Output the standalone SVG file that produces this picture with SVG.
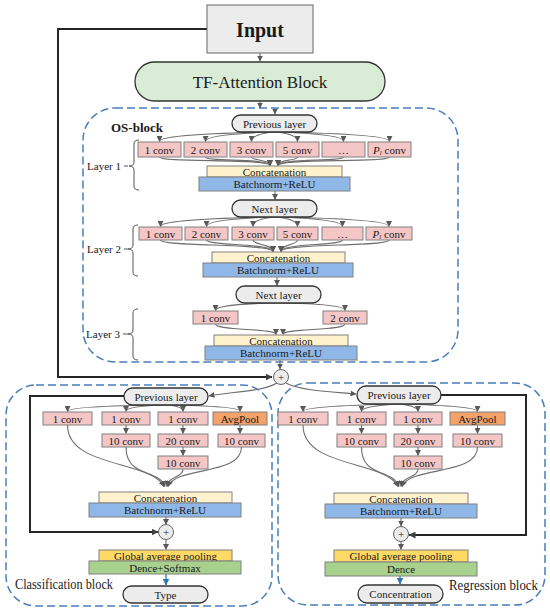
<svg xmlns="http://www.w3.org/2000/svg" width="550" height="612" viewBox="0 0 550 612" font-family="'Liberation Serif','Times New Roman',serif">
<defs>
<marker id="ah" markerWidth="6" markerHeight="6" refX="5.5" refY="3" orient="auto" markerUnits="userSpaceOnUse"><path d="M0,0 L6,3 L0,6 z" fill="#595959"/></marker>
<marker id="ahk" markerWidth="7" markerHeight="7" refX="6.5" refY="3.5" orient="auto" markerUnits="userSpaceOnUse"><path d="M0,0 L7,3.5 L0,7 z" fill="#404040"/></marker>
<marker id="ahb" markerWidth="7" markerHeight="7" refX="6.5" refY="3.5" orient="auto" markerUnits="userSpaceOnUse"><path d="M0,0 L7,3.5 L0,7 z" fill="#2e75b6"/></marker>
<style>
text{font-family:"Liberation Serif","Times New Roman",serif;fill:#1a1a1a;text-anchor:middle;dominant-baseline:central}
.t11{font-size:11px}
.conv{fill:#f5c6c6;stroke:#808080;stroke-width:1}
.pool{fill:#f4a26a;stroke:#808080;stroke-width:1}
.cat{fill:#fff2cc;stroke:#808080;stroke-width:1}
.bn{fill:#8fb8e8;stroke:#808080;stroke-width:1}
.gap{fill:#ffd966;stroke:#808080;stroke-width:1}
.dn{fill:#a9d18e;stroke:#808080;stroke-width:1}
.pill{fill:#ececec;stroke:#333;stroke-width:1.3}
.dash{fill:none;stroke:#4a7ebb;stroke-width:1.5;stroke-dasharray:8 4}
.la{fill:none;stroke:#6e6e6e;stroke-width:1.1;marker-end:url(#ah)}
.thick{fill:none;stroke:#262626;stroke-width:2;marker-end:url(#ahk)}
.brace{fill:none;stroke:#555;stroke-width:1}
.plus{fill:#ececec;stroke:#666;stroke-width:1}
</style>
</defs>

<!-- containers -->
<g id="os-block">
<rect class="dash" x="83" y="108" width="375" height="254" rx="32"/>
<text x="111" y="127" style="font-size:13px;font-weight:bold;text-anchor:start">OS-block</text>
</g>
<g id="classification-block">
<rect class="dash" x="6" y="385" width="266" height="221" rx="30"/>
<text x="15" y="584" textLength="98" lengthAdjust="spacingAndGlyphs" style="font-size:14px;text-anchor:start">Classification block</text>
</g>
<g id="regression-block">
<rect class="dash" x="278" y="383" width="267" height="222" rx="30"/>
<text x="449" y="585" textLength="89" lengthAdjust="spacingAndGlyphs" style="font-size:14px;text-anchor:start">Regression block</text>
</g>

<!-- connectors -->
<g id="connectors">
<path class="thick" d="M207,29 H58 V377 H272"/>
<path class="la" d="M260,53 V61"/>
<path class="la" d="M260,101 V108"/>
<path class="la" d="M275,108 V114"/>
<!-- layer 1 fan -->
<path class="la" d="M275,132 Q159.5,134 159.5,141.5"/>
<path class="la" d="M275,132 Q205.5,134 205.5,141.5"/>
<path class="la" d="M275,132 Q251.5,134 251.5,141.5"/>
<path class="la" d="M275,132 Q297.5,134 297.5,141.5"/>
<path class="la" d="M275,132 Q343.5,134 343.5,141.5"/>
<path class="la" d="M275,132 Q389.5,134 389.5,141.5"/>
<path class="la" d="M159.5,157 C159.5,163 270,158 270,165.5"/>
<path class="la" d="M205.5,157 C205.5,162 270,158 270,165.5"/>
<path class="la" d="M251.5,157 C251.5,161 270,159 270,165.5"/>
<path class="la" d="M297.5,157 C297.5,161 278,159 278,165.5"/>
<path class="la" d="M343.5,157 C343.5,162 278,158 278,165.5"/>
<path class="la" d="M389.5,157 C389.5,163 278,158 278,165.5"/>
<path class="la" d="M275,191 V199.5"/>
<!-- layer 2 fan -->
<path class="la" d="M275,217 Q160.5,219 160.5,226.5"/>
<path class="la" d="M275,217 Q206.5,219 206.5,226.5"/>
<path class="la" d="M275,217 Q253,219 253,226.5"/>
<path class="la" d="M275,217 Q297.5,219 297.5,226.5"/>
<path class="la" d="M275,217 Q342.5,219 342.5,226.5"/>
<path class="la" d="M275,217 Q389,219 389,226.5"/>
<path class="la" d="M160.5,240 C160.5,247 273,243 273,251.5"/>
<path class="la" d="M206.5,240 C206.5,246 273,243 273,251.5"/>
<path class="la" d="M253,240 C253,245 273,244 273,251.5"/>
<path class="la" d="M297.5,240 C297.5,245 281,244 281,251.5"/>
<path class="la" d="M342.5,240 C342.5,246 281,243 281,251.5"/>
<path class="la" d="M389,240 C389,247 281,243 281,251.5"/>
<path class="la" d="M277,277 V285.5"/>
<!-- layer 3 -->
<path class="la" d="M278,303 Q215.5,304 215.5,310.5"/>
<path class="la" d="M278,303 Q345,304 345,310.5"/>
<path class="la" d="M215.5,324 C215.5,331 276,328 276,334.5"/>
<path class="la" d="M345,324 C345,331 283,328 283,334.5"/>
<path class="la" d="M280,360 V369"/>
<!-- plus to blocks -->
<path class="la" d="M277,383 C262,392 228,392 209,396"/>
<path class="la" d="M286,383 C300,391 335,392 356,394"/>
<!-- classification -->
<path class="thick" d="M124,396 H30 V532 H158"/>
<path class="la" d="M166,405 Q67.5,406 67.5,411.5"/>
<path class="la" d="M166,405 Q126,406 126,411.5"/>
<path class="la" d="M166,405 Q183,406 183,411.5"/>
<path class="la" d="M166,405 Q240,406 240,411.5"/>
<path class="la" d="M126,425 V433.5"/>
<path class="la" d="M183,425 V433.5"/>
<path class="la" d="M183,447 V455.5"/>
<path class="la" d="M240,425 V433.5"/>
<path class="la" d="M67.5,425 C67.5,468 150,460 164,486.5"/>
<path class="la" d="M126,447 C126,478 158,468 165,486.5"/>
<path class="la" d="M183,469 C183,478 168,476 167,486.5"/>
<path class="la" d="M241.5,447 C241.5,476 176,466 168,486.5"/>
<path class="la" d="M166,517 V524.5"/>
<path class="la" d="M166,540 V549.5"/>
<path d="M166,574 V585" fill="none" stroke="#2e75b6" stroke-width="1.3" marker-end="url(#ahb)"/>
<!-- regression -->
<path class="thick" d="M441,395 H526 V535 H409"/>
<path class="la" d="M399,404 Q303,406 303,411.5"/>
<path class="la" d="M399,404 Q361.5,406 361.5,411.5"/>
<path class="la" d="M399,404 Q418,406 418,411.5"/>
<path class="la" d="M399,404 Q477.5,406 477.5,411.5"/>
<path class="la" d="M361.5,425 V433.5"/>
<path class="la" d="M418,425 V433.5"/>
<path class="la" d="M418,447 V455.5"/>
<path class="la" d="M477.5,425 V433.5"/>
<path class="la" d="M303,425 C303,468 384,460 398,486.5"/>
<path class="la" d="M361.5,447 C361.5,478 392,468 399,486.5"/>
<path class="la" d="M418,469 C418,478 402,476 401,486.5"/>
<path class="la" d="M477.5,447 C477.5,476 410,466 402,486.5"/>
<path class="la" d="M401,518 V526"/>
<path class="la" d="M401,541 V549.5"/>
<path d="M400,576 V584" fill="none" stroke="#2e75b6" stroke-width="1.3" marker-end="url(#ahb)"/>
</g>

<!-- nodes -->
<g id="input">
<rect x="207" y="5" width="106" height="48" fill="#ececec" stroke="#666" stroke-width="1"/>
<text x="260" y="30" style="font-size:20px;font-weight:bold">Input</text>
</g>
<g id="tf-attention">
<rect x="135" y="62" width="250" height="39" rx="19.5" fill="#d9ecd6" stroke="#333" stroke-width="1.3"/>
<text x="260" y="82" style="font-size:17px">TF-Attention Block</text>
</g>

<g id="layer1">
<rect class="pill" x="232" y="115" width="85" height="17" rx="8.5"/><text class="t11" x="274.5" y="123.5">Previous layer</text>
<rect class="conv" x="138" y="142" width="43" height="15"/><text class="t11" x="159.5" y="149.5">1 conv</text>
<rect class="conv" x="184" y="142" width="43" height="15"/><text class="t11" x="205.5" y="149.5">2 conv</text>
<rect class="conv" x="230" y="142" width="43" height="15"/><text class="t11" x="251.5" y="149.5">3 conv</text>
<rect class="conv" x="276" y="142" width="43" height="15"/><text class="t11" x="297.5" y="149.5">5 conv</text>
<rect class="conv" x="322" y="142" width="43" height="15"/><text class="t11" x="343.5" y="149.5">…</text>
<rect class="conv" x="368" y="142" width="43" height="15"/><text class="t11" x="389.5" y="149.5"><tspan font-style="italic">P</tspan><tspan font-size="7" dy="3" font-style="italic">l</tspan><tspan dy="-3"> conv</tspan></text>
<rect class="cat" x="207" y="166" width="135" height="11"/><text class="t11" x="274.5" y="171.5">Concatenation</text>
<rect class="bn" x="199" y="177" width="151" height="14"/><text class="t11" x="274.5" y="184">Batchnorm+ReLU</text>
<text class="t11" x="104" y="166">Layer 1</text>
<path class="brace" d="M124,166 H128 M139,140 Q134,140 134,144 V162 Q134,166 129,166 Q134,166 134,170 V186 Q134,190 139,190"/>
</g>

<g id="layer2">
<rect class="pill" x="232" y="200" width="85" height="17" rx="8.5"/><text class="t11" x="274.5" y="208.5">Next layer</text>
<rect class="conv" x="139" y="227" width="43" height="13"/><text class="t11" x="160.5" y="233.5">1 conv</text>
<rect class="conv" x="185" y="227" width="43" height="13"/><text class="t11" x="206.5" y="233.5">2 conv</text>
<rect class="conv" x="232" y="227" width="42" height="13"/><text class="t11" x="253" y="233.5">3 conv</text>
<rect class="conv" x="277" y="227" width="41" height="13"/><text class="t11" x="297.5" y="233.5">5 conv</text>
<rect class="conv" x="322" y="227" width="41" height="13"/><text class="t11" x="342.5" y="233.5">…</text>
<rect class="conv" x="366" y="227" width="46" height="13"/><text class="t11" x="389" y="233.5"><tspan font-style="italic">P</tspan><tspan font-size="7" dy="3" font-style="italic">l</tspan><tspan dy="-3"> conv</tspan></text>
<rect class="cat" x="212" y="252" width="133" height="11"/><text class="t11" x="278.5" y="257.5">Concatenation</text>
<rect class="bn" x="203" y="263" width="150" height="14"/><text class="t11" x="278" y="270">Batchnorm+ReLU</text>
<text class="t11" x="104" y="249">Layer 2</text>
<path class="brace" d="M124,249 H128 M138,225 Q133,225 133,229 V245 Q133,249 128,249 Q133,249 133,253 V272 Q133,276 138,276"/>
</g>

<g id="layer3">
<rect class="pill" x="236" y="286" width="85" height="17" rx="8.5"/><text class="t11" x="278.5" y="294.5">Next layer</text>
<rect class="conv" x="193" y="311" width="45" height="13"/><text class="t11" x="215.5" y="317.5">1 conv</text>
<rect class="conv" x="323" y="311" width="44" height="13"/><text class="t11" x="345" y="317.5">2 conv</text>
<rect class="cat" x="214" y="335" width="134" height="11"/><text class="t11" x="281" y="340.5">Concatenation</text>
<rect class="bn" x="205" y="346" width="152" height="14"/><text class="t11" x="281" y="353">Batchnorm+ReLU</text>
<text class="t11" x="103" y="334">Layer 3</text>
<path class="brace" d="M123,334 H128 M138,309 Q133,309 133,313 V330 Q133,334 128,334 Q133,334 133,338 V356 Q133,360 138,360"/>
</g>

<g id="plus-main">
<circle class="plus" cx="281" cy="377" r="7.5"/><text class="t11" x="281" y="377">+</text>
</g>

<g id="classification">
<rect class="pill" x="124" y="388" width="84" height="17" rx="8.5"/><text class="t11" x="166" y="396.5">Previous layer</text>
<rect class="conv" x="43" y="412" width="49" height="13"/><text class="t11" x="67.5" y="418.5">1 conv</text>
<rect class="conv" x="102" y="412" width="48" height="13"/><text class="t11" x="126" y="418.5">1 conv</text>
<rect class="conv" x="158" y="412" width="50" height="13"/><text class="t11" x="183" y="418.5">1 conv</text>
<rect class="pool" x="213" y="412" width="54" height="13"/><text class="t11" x="240" y="418.5">AvgPool</text>
<rect class="conv" x="102" y="434" width="48" height="13"/><text class="t11" x="126" y="440.5">10 conv</text>
<rect class="conv" x="158" y="434" width="50" height="13"/><text class="t11" x="183" y="440.5">20 conv</text>
<rect class="conv" x="218" y="434" width="47" height="13"/><text class="t11" x="241.5" y="440.5">10 conv</text>
<rect class="conv" x="158" y="456" width="50" height="13"/><text class="t11" x="183" y="462.5">10 conv</text>
<rect class="cat" x="99" y="492" width="133" height="11"/><text class="t11" x="165.5" y="497.5">Concatenation</text>
<rect class="bn" x="89" y="503" width="152" height="14"/><text class="t11" x="165" y="510">Batchnorm+ReLU</text>
<circle class="plus" cx="166" cy="532" r="7.5"/><text class="t11" x="166" y="532">+</text>
<rect class="gap" x="99" y="550" width="133" height="11"/><text class="t11" x="165.5" y="555.5">Global average pooling</text>
<rect class="dn" x="89" y="561" width="152" height="13"/><text class="t11" x="165" y="567.5">Dence+Softmax</text>
<rect class="pill" x="123" y="586" width="85" height="17" rx="8.5"/><text class="t11" x="165.5" y="594.5">Type</text>
</g>

<g id="regression">
<rect class="pill" x="357" y="386" width="84" height="18" rx="9"/><text class="t11" x="399" y="395">Previous layer</text>
<rect class="conv" x="278" y="412" width="50" height="13"/><text class="t11" x="303" y="418.5">1 conv</text>
<rect class="conv" x="337" y="412" width="49" height="13"/><text class="t11" x="361.5" y="418.5">1 conv</text>
<rect class="conv" x="394" y="412" width="48" height="13"/><text class="t11" x="418" y="418.5">1 conv</text>
<rect class="pool" x="450" y="412" width="55" height="13"/><text class="t11" x="477.5" y="418.5">AvgPool</text>
<rect class="conv" x="337" y="434" width="49" height="13"/><text class="t11" x="361.5" y="440.5">10 conv</text>
<rect class="conv" x="394" y="434" width="48" height="13"/><text class="t11" x="418" y="440.5">20 conv</text>
<rect class="conv" x="453" y="434" width="49" height="13"/><text class="t11" x="477.5" y="440.5">10 conv</text>
<rect class="conv" x="394" y="456" width="48" height="13"/><text class="t11" x="418" y="462.5">10 conv</text>
<rect class="cat" x="334" y="493" width="134" height="11"/><text class="t11" x="401" y="498.5">Concatenation</text>
<rect class="bn" x="325" y="504" width="152" height="14"/><text class="t11" x="401" y="511">Batchnorm+ReLU</text>
<circle class="plus" cx="401" cy="534" r="7.5"/><text class="t11" x="401" y="534">+</text>
<rect class="gap" x="334" y="550" width="134" height="12"/><text class="t11" x="401" y="556">Global average pooling</text>
<rect class="dn" x="325" y="562" width="152" height="14"/><text class="t11" x="401" y="569">Dence</text>
<rect class="pill" x="358" y="585" width="85" height="18" rx="9"/><text class="t11" x="400.5" y="594">Concentration</text>
</g>
</svg>
